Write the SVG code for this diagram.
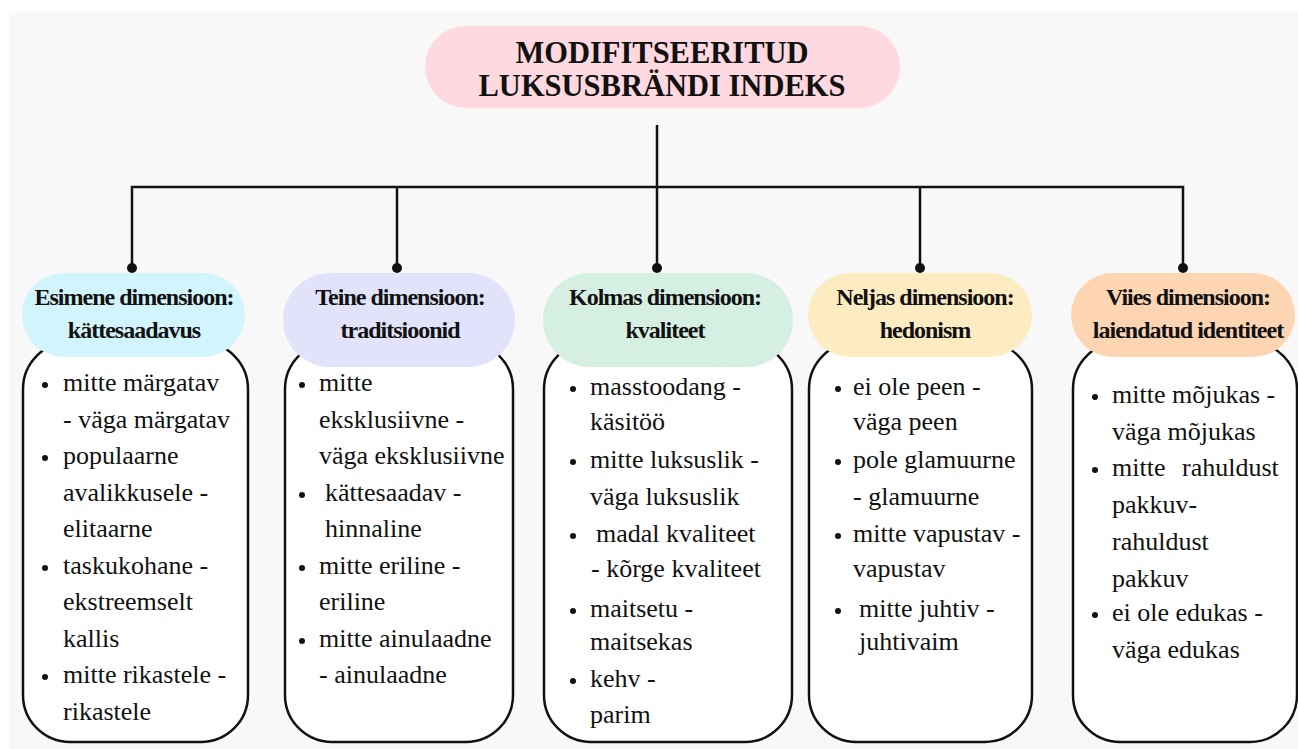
<svg xmlns="http://www.w3.org/2000/svg" width="1298" height="749" viewBox="0 0 1298 749">
  <style>
    .title { font-family: "Liberation Serif", Tinos, "Times New Roman", "DejaVu Serif", serif; font-weight: bold; font-size: 30.5px; fill: #111; text-anchor: middle; }
    .head { font-family: "Liberation Serif", Tinos, "Times New Roman", "DejaVu Serif", serif; font-weight: bold; font-size: 24px; letter-spacing: -1px; fill: #111; text-anchor: middle; }
    .item text { font-family: "Liberation Serif", Tinos, "Times New Roman", "DejaVu Serif", serif; font-size: 26px; fill: #111; }
    .body { fill: #ffffff; stroke: #111; stroke-width: 2.5; }
    .link { fill: none; stroke: #111; stroke-width: 2.5; }
    .dot { fill: #111; }
  </style>

  <!-- canvas -->
  <rect x="0" y="0" width="1298" height="749" fill="#ffffff"/>
  <rect x="9" y="12" width="1289" height="737" fill="#f8f8f8"/>

  <!-- connectors -->
  <g id="connectors">
    <path class="link" d="M657 125 V268"/>
    <path class="link" d="M132 268 V187 H1183 V268"/>
    <path class="link" d="M397 187 V268"/>
    <path class="link" d="M920 187 V268"/>
    <circle class="dot" cx="132" cy="268" r="5"/>
    <circle class="dot" cx="397" cy="268" r="5"/>
    <circle class="dot" cx="657" cy="268" r="5"/>
    <circle class="dot" cx="920" cy="268" r="5"/>
    <circle class="dot" cx="1183" cy="268" r="5"/>
  </g>

  <!-- root -->
  <g id="root">
    <rect x="425" y="26" width="475" height="82" rx="41" fill="#ffd9df"/>
    <text class="title" x="662" y="63">MODIFITSEERITUD</text>
    <text class="title" x="662" y="96">LUKSUSBRÄNDI INDEKS</text>
  </g>

  <!-- dimension 1 -->
  <g id="dim1">
    <rect class="body" x="23" y="342" width="225" height="400" rx="47"/>
    <rect x="22" y="273" width="223" height="84" rx="42" fill="#d2f4fd"/>
    <text class="head" x="134" y="305">Esimene dimensioon:</text>
    <text class="head" x="134" y="338">kättesaadavus</text>
    <g class="item">
      <circle class="dot" cx="45" cy="385" r="3"/>
      <circle class="dot" cx="45" cy="458" r="3"/>
      <circle class="dot" cx="45" cy="568" r="3"/>
      <circle class="dot" cx="45" cy="677" r="3"/>
      <text x="63" y="391">mitte märgatav</text>
      <text x="63" y="428">- väga märgatav</text>
      <text x="63" y="464">populaarne</text>
      <text x="63" y="501">avalikkusele -</text>
      <text x="63" y="537">elitaarne</text>
      <text x="63" y="574">taskukohane -</text>
      <text x="63" y="610">ekstreemselt</text>
      <text x="63" y="647">kallis</text>
      <text x="63" y="683">mitte rikastele -</text>
      <text x="63" y="720">rikastele</text>
    </g>
  </g>

  <!-- dimension 2 -->
  <g id="dim2">
    <rect class="body" x="285" y="342" width="228" height="400" rx="47"/>
    <rect x="283" y="273" width="232" height="94" rx="47" fill="#e2e2fb"/>
    <text class="head" x="400" y="305">Teine dimensioon:</text>
    <text class="head" x="400" y="338">traditsioonid</text>
    <g class="item">
      <circle class="dot" cx="302" cy="385" r="3"/>
      <circle class="dot" cx="302" cy="495" r="3"/>
      <circle class="dot" cx="302" cy="568" r="3"/>
      <circle class="dot" cx="302" cy="641" r="3"/>
      <text x="319" y="391">mitte</text>
      <text x="319" y="428">eksklusiivne -</text>
      <text x="319" y="464">väga eksklusiivne</text>
      <text x="325" y="501">kättesaadav -</text>
      <text x="325" y="537">hinnaline</text>
      <text x="319" y="574">mitte eriline -</text>
      <text x="319" y="610">eriline</text>
      <text x="319" y="647">mitte ainulaadne</text>
      <text x="319" y="683">- ainulaadne</text>
    </g>
  </g>

  <!-- dimension 3 -->
  <g id="dim3">
    <rect class="body" x="544" y="342" width="248" height="400" rx="47"/>
    <rect x="543" y="273" width="250" height="94" rx="47" fill="#d5efe2"/>
    <text class="head" x="665" y="305">Kolmas dimensioon:</text>
    <text class="head" x="665" y="338">kvaliteet</text>
    <g class="item">
      <circle class="dot" cx="573" cy="389" r="3"/>
      <circle class="dot" cx="573" cy="462" r="3"/>
      <circle class="dot" cx="573" cy="536" r="3"/>
      <circle class="dot" cx="573" cy="611" r="3"/>
      <circle class="dot" cx="573" cy="681" r="3"/>
      <text x="590" y="395">masstoodang -</text>
      <text x="590" y="430">käsitöö</text>
      <text x="590" y="468">mitte luksuslik -</text>
      <text x="590" y="505">väga luksuslik</text>
      <text x="596" y="542">madal kvaliteet</text>
      <text x="591" y="577">- kõrge kvaliteet</text>
      <text x="590" y="617">maitsetu -</text>
      <text x="590" y="650">maitsekas</text>
      <text x="590" y="687">kehv -</text>
      <text x="590" y="723">parim</text>
    </g>
  </g>

  <!-- dimension 4 -->
  <g id="dim4">
    <rect class="body" x="809" y="342" width="223" height="400" rx="47"/>
    <rect x="808" y="273" width="224" height="84" rx="42" fill="#fdebc1"/>
    <text class="head" x="925" y="305">Neljas dimensioon:</text>
    <text class="head" x="925" y="338">hedonism</text>
    <g class="item">
      <circle class="dot" cx="838" cy="389" r="3"/>
      <circle class="dot" cx="838" cy="462" r="3"/>
      <circle class="dot" cx="838" cy="536" r="3"/>
      <circle class="dot" cx="838" cy="611" r="3"/>
      <text x="853" y="395">ei ole peen -</text>
      <text x="853" y="430">väga peen</text>
      <text x="853" y="468">pole glamuurne</text>
      <text x="853" y="505">- glamuurne</text>
      <text x="853" y="542">mitte vapustav -</text>
      <text x="853" y="577">vapustav</text>
      <text x="859" y="617">mitte juhtiv -</text>
      <text x="859" y="650">juhtivaim</text>
    </g>
  </g>

  <!-- dimension 5 -->
  <g id="dim5">
    <rect class="body" x="1073" y="342" width="224" height="400" rx="47"/>
    <rect x="1071" y="273" width="224" height="84" rx="42" fill="#fdd5b3"/>
    <text class="head" x="1188" y="305">Viies dimensioon:</text>
    <text class="head" x="1188" y="338">laiendatud identiteet</text>
    <g class="item">
      <circle class="dot" cx="1095" cy="397" r="3"/>
      <circle class="dot" cx="1095" cy="470" r="3"/>
      <circle class="dot" cx="1095" cy="615" r="3"/>
      <text x="1112" y="403">mitte mõjukas -</text>
      <text x="1112" y="440">väga mõjukas</text>
      <text x="1112" y="476">mitte</text>
      <text x="1182" y="476">rahuldust</text>
      <text x="1112" y="513">pakkuv-</text>
      <text x="1112" y="550">rahuldust</text>
      <text x="1112" y="587">pakkuv</text>
      <text x="1112" y="621">ei ole edukas -</text>
      <text x="1112" y="658">väga edukas</text>
    </g>
  </g>
</svg>
